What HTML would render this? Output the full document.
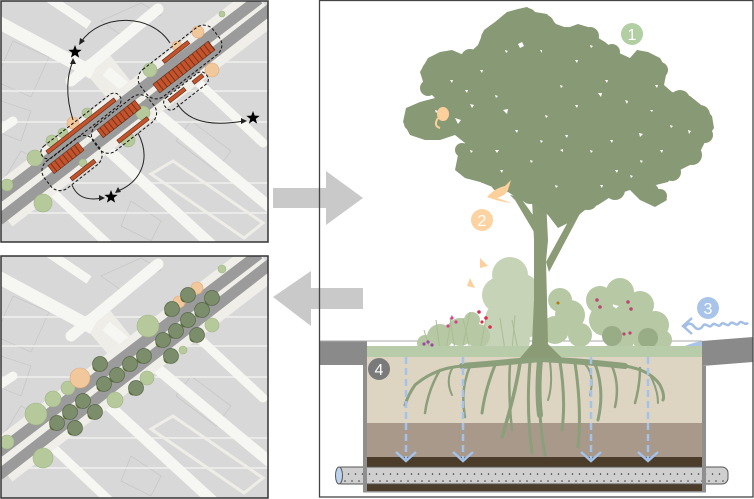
<!DOCTYPE html>
<html><head><meta charset="utf-8"><style>
html,body{margin:0;padding:0;background:#fff;width:754px;height:499px;overflow:hidden}
svg{display:block}
</style></head><body>
<svg width="754" height="499" viewBox="0 0 754 499" xmlns="http://www.w3.org/2000/svg">
<defs>
<clipPath id="cpT"><rect x="1" y="1" width="267" height="241"/></clipPath>
<clipPath id="cpB"><rect x="1" y="256" width="267" height="242"/></clipPath>
<pattern id="stripe" width="5" height="40" patternUnits="userSpaceOnUse"><rect width="5" height="40" fill="#c4532c"/><rect x="4.1" width="0.9" height="40" fill="#6e2f18"/></pattern>
<pattern id="dots" x="0" y="0" width="7" height="14" patternUnits="userSpaceOnUse"><circle cx="2" cy="5" r="0.75" fill="#333"/><circle cx="5.5" cy="12" r="0.75" fill="#333"/></pattern>
<g id="map">
 <rect x="-2" y="-2" width="272" height="248" fill="#d8d8d8"/>
 <g stroke="#c8c8c8" stroke-width="0.8" fill="none">
  <polygon points="12,40 48,56 30,96 -6,80"/>
  <polygon points="100,20 140,2 160,14 120,34"/>
  <polygon points="190,120 230,150 215,170 175,140"/>
  <polygon points="20,150 40,160 25,185 5,175"/>
  <polygon points="130,200 160,220 150,240 120,225"/>
  <polygon points="210,20 240,40 225,60 195,40"/>
  <polygon points="0,100 30,110 20,140 -5,130"/>
 </g>
 <g stroke="#f0f0ed" stroke-width="1.4">
  <line x1="0" y1="61" x2="268" y2="61"/>
  <line x1="0" y1="90" x2="268" y2="90"/>
  <line x1="0" y1="121" x2="268" y2="121"/>
  <line x1="0" y1="182" x2="268" y2="182"/>
  <line x1="0" y1="212" x2="268" y2="212"/>
 </g>
 <polygon points="78,64 104,48 136,88 110,102" fill="#eeede8"/>
 <g fill="none" stroke="#f6f6f3">
  <path d="M-5,20 L92,72" stroke-width="13"/>
  <path d="M48,-3 L88,24" stroke-width="9"/>
  <path d="M70,80 L157,8" stroke-width="11" stroke-linecap="round"/>
  <path d="M105,70 L270,207" stroke-width="11"/>
  <path d="M185,70 L262,142" stroke-width="9" stroke-linecap="round"/>
  <path d="M92,135 L215,248" stroke-width="11"/>
  <path d="M45,185 L112,248" stroke-width="9"/>
  <path d="M-3,130 L12,120" stroke-width="9" stroke-linecap="round"/>
 </g>
 <polygon points="150,173 172,160 262,222 243,237" fill="none" stroke="#eeede8" stroke-width="3"/>
 <path d="M-2,208 L264,4" stroke="#efeee9" stroke-width="44" fill="none"/>
 <path d="M-2,196 L258,-2" stroke="#9b9b9b" stroke-width="11" fill="none"/>
 <path d="M-2,219 L272,6" stroke="#9b9b9b" stroke-width="11" fill="none"/>
</g>
</defs>

<!-- TOP MAP -->
<g clip-path="url(#cpT)">
 <use href="#map" x="1" y="1"/>
 <g fill="#b6c99b" stroke="#9db386" stroke-width="0.6">
  <circle cx="35" cy="158" r="8"/>
  <circle cx="43" cy="203" r="9"/>
  <circle cx="7" cy="185" r="6"/>
  <circle cx="63" cy="133" r="5"/>
  <circle cx="52" cy="141" r="6"/>
  <circle cx="87" cy="113" r="5"/>
  <circle cx="143" cy="113" r="7"/>
  <circle cx="128" cy="140" r="7"/>
  <circle cx="83" cy="163" r="4"/>
  <circle cx="150" cy="70" r="7"/>
  <circle cx="222" cy="14" r="3"/>
 </g>
 <g fill="#f1c79c" stroke="#e4a878" stroke-width="0.6">
  <circle cx="73" cy="123" r="6"/>
  <circle cx="212" cy="70" r="7"/>
  <circle cx="198" cy="32" r="6"/>
  <circle cx="177" cy="46" r="5"/>
 </g>
 <g fill="none" stroke="#111" stroke-width="1" stroke-dasharray="3,2">
  <rect x="-49" y="-7" width="98" height="14" rx="7" transform="translate(81,126) rotate(-38)"/>
  <rect x="-31" y="-17" width="62" height="34" rx="12" transform="translate(72,163) rotate(-38)"/>
  <rect x="-35" y="-16" width="70" height="32" rx="12" transform="translate(124,124) rotate(-38)"/>
  <rect x="-46" y="-17" width="92" height="34" rx="12" transform="translate(180,62) rotate(-38)"/>
  <rect x="-26" y="-7" width="52" height="14" rx="6" transform="translate(186,91) rotate(-38)"/>
 </g>
 <g stroke="#5a2a15" stroke-width="0.6">
  <g transform="translate(66,158) rotate(-38)"><rect x="-19" y="-5" width="38" height="10" fill="url(#stripe)"/></g>
  <g transform="translate(119,119) rotate(-38)"><rect x="-24" y="-5" width="48" height="10" fill="url(#stripe)"/></g>
  <g transform="translate(184,67) rotate(-38)"><rect x="-35" y="-5.5" width="70" height="11" fill="url(#stripe)"/></g>
  <g fill="#c4532c">
   <rect x="-43" y="-2" width="86" height="4" transform="translate(81,126) rotate(-38)"/>
   <rect x="-15" y="-2" width="30" height="4" transform="translate(83,170) rotate(-38)"/>
   <rect x="-19" y="-2" width="38" height="4" transform="translate(133,130) rotate(-38)"/>
   <rect x="-16" y="-2" width="32" height="4" transform="translate(176,52) rotate(-38)"/>
   <rect x="-10" y="-2" width="20" height="4" transform="translate(177,95) rotate(-38)"/>
   <rect x="-6" y="-2" width="12" height="4" transform="translate(198,79) rotate(-38)"/>
  </g>
 </g>
 <g fill="none" stroke="#222" stroke-width="1">
  <path d="M170,43 C150,12 100,14 81,42"/>
  <path d="M73,120 C65,95 67,75 73,61"/>
  <path d="M177,103 C190,126 220,125 244,121"/>
  <path d="M72,185 C78,200 92,200 102,198"/>
  <path d="M138,133 C152,160 140,182 118,191"/>
 </g>
 <g fill="#222">
  <polygon points="79,45 80,38 85,41"/>
  <polygon points="73,58 70,64 76,64"/>
  <polygon points="247,121 241,118 241,124"/>
  <polygon points="105,198 99,195 99,201"/>
  <polygon points="115,193 118,187 121,192"/>
 </g>
 <g fill="#000">
  <polygon transform="translate(75,52)" points="0,-7 1.7,-2.35 6.66,-2.16 2.76,0.9 4.11,5.66 0,2.9 -4.11,5.66 -2.76,0.9 -6.66,-2.16 -1.7,-2.35"/>
  <polygon transform="translate(253,118)" points="0,-7 1.7,-2.35 6.66,-2.16 2.76,0.9 4.11,5.66 0,2.9 -4.11,5.66 -2.76,0.9 -6.66,-2.16 -1.7,-2.35"/>
  <polygon transform="translate(111,197)" points="0,-7 1.7,-2.35 6.66,-2.16 2.76,0.9 4.11,5.66 0,2.9 -4.11,5.66 -2.76,0.9 -6.66,-2.16 -1.7,-2.35"/>
 </g>
</g>
<rect x="1" y="1" width="267" height="241" fill="none" stroke="#333" stroke-width="1.5"/>

<!-- BOTTOM MAP -->
<g clip-path="url(#cpB)">
 <use href="#map" x="1" y="256"/>
 <g fill="#b6c99b" stroke="#9db386" stroke-width="0.6">
  <circle cx="148" cy="326" r="11"/>
  <circle cx="36" cy="414" r="11"/>
  <circle cx="43" cy="458" r="10"/>
  <circle cx="7" cy="442" r="7"/>
  <circle cx="53" cy="399" r="8"/>
  <circle cx="68" cy="388" r="7"/>
  <circle cx="115" cy="400" r="8"/>
  <circle cx="147" cy="378" r="7"/>
  <circle cx="212" cy="325" r="7"/>
  <circle cx="183" cy="350" r="4"/>
  <circle cx="222" cy="269" r="4"/>
 </g>
 <g fill="#f1c79c" stroke="#e4a878" stroke-width="0.6">
  <circle cx="197" cy="288" r="6"/>
  <circle cx="179" cy="302" r="6"/>
  <circle cx="80" cy="378" r="10"/>
 </g>
 <g>
  <g fill="#5b6e22">
   <circle cx="185" cy="298" r="4.5"/><circle cx="209" cy="301" r="4.5"/><circle cx="169" cy="312" r="4.5"/><circle cx="199" cy="313" r="4.5"/><circle cx="185" cy="323" r="4.5"/><circle cx="173" cy="334" r="4.5"/><circle cx="160" cy="343" r="4.5"/><circle cx="194" cy="338" r="4.5"/><circle cx="168" cy="359" r="4.5"/><circle cx="141" cy="359" r="4.5"/><circle cx="127" cy="367" r="4.5"/><circle cx="97" cy="367" r="4.5"/><circle cx="114" cy="378" r="4.5"/><circle cx="101" cy="387" r="4.5"/><circle cx="133" cy="391" r="4.5"/><circle cx="80" cy="404" r="4.5"/><circle cx="92" cy="415" r="4.5"/><circle cx="67" cy="415" r="4.5"/><circle cx="54" cy="426" r="4.5"/><circle cx="72" cy="431" r="4.5"/>
  </g>
  <g fill="#7b8d6a" stroke="#56664a" stroke-width="0.7">
   <circle cx="188" cy="295" r="7.5"/><circle cx="212" cy="298" r="7.5"/><circle cx="172" cy="309" r="7.5"/><circle cx="202" cy="310" r="7.5"/><circle cx="188" cy="320" r="7.5"/><circle cx="176" cy="331" r="7.5"/><circle cx="163" cy="340" r="7.5"/><circle cx="197" cy="335" r="7.5"/><circle cx="171" cy="356" r="7.5"/><circle cx="144" cy="356" r="7.5"/><circle cx="130" cy="364" r="7.5"/><circle cx="100" cy="364" r="7.5"/><circle cx="117" cy="375" r="7.5"/><circle cx="104" cy="384" r="7.5"/><circle cx="136" cy="388" r="7.5"/><circle cx="83" cy="401" r="7.5"/><circle cx="95" cy="412" r="7.5"/><circle cx="70" cy="412" r="7.5"/><circle cx="57" cy="423" r="7.5"/><circle cx="75" cy="428" r="7.5"/>
  </g>
 </g>
</g>
<rect x="1" y="256" width="267" height="242" fill="none" stroke="#333" stroke-width="1.5"/>

<!-- grey arrows -->
<polygon points="273,188 326,188 326,171 363,198 326,225 326,208 273,208" fill="#c9c9c9"/>
<polygon points="273,297 311,271 311,288 363,288 363,309 311,309 311,326" fill="#c9c9c9"/>

<!-- RIGHT PANEL -->
<rect x="367" y="356" width="335" height="67" fill="#ddd4c2"/>
<rect x="367" y="423" width="335" height="34" fill="#a8998a"/>
<rect x="367" y="457" width="335" height="35" fill="#4c3d2b"/>
<g fill="none" stroke="#8b9f7b" stroke-linecap="round">
 <path d="M540,359 Q500,363 462,366" stroke-width="6"/>
 <path d="M462,366 Q435,368 415,385 Q408,395 405,405" stroke-width="3"/>
 <path d="M542,359 Q590,362 625,366" stroke-width="6"/>
 <path d="M625,366 Q650,370 660,385 Q665,395 663,400" stroke-width="3"/>
 <path d="M540,360 Q537,390 540,415" stroke-width="6"/>
 <path d="M540,415 Q542,440 545,455" stroke-width="3"/>
 <path d="M520,363 Q515,395 502,437" stroke-width="3.5"/>
 <path d="M495,365 Q485,390 482,413" stroke-width="3"/>
 <path d="M470,366 Q460,390 465,417" stroke-width="2.5"/>
 <path d="M440,370 Q428,390 425,413" stroke-width="2.5"/>
 <path d="M510,364 Q508,395 512,430" stroke-width="2.5"/>
 <path d="M560,362 Q566,400 562,430" stroke-width="3"/>
 <path d="M575,363 Q582,410 578,447" stroke-width="3"/>
 <path d="M595,364 Q605,390 598,420" stroke-width="3"/>
 <path d="M612,366 Q620,385 615,407" stroke-width="2.5"/>
 <path d="M640,368 Q640,385 635,403" stroke-width="2.5"/>
 <path d="M650,375 Q658,390 658,403" stroke-width="2"/>
 <path d="M530,362 Q526,410 532,453" stroke-width="3"/>
 <path d="M453,367 Q445,380 452,395" stroke-width="2"/>
 <path d="M585,364 Q595,375 590,395" stroke-width="2"/>
 <path d="M550,362 Q553,385 548,400" stroke-width="2"/>
</g>
<g fill="none" stroke="#a4c2ea" stroke-width="2.5">
 <path d="M406,357 V459 M463,357 V459 M591,357 V459 M648,357 V459" stroke-dasharray="7,4"/>
 <polyline points="396,452 406,461 416,452"/>
 <polyline points="453,452 463,461 473,452"/>
 <polyline points="581,452 591,461 601,452"/>
 <polyline points="638,452 648,461 658,452"/>
</g>
<rect x="336" y="467" width="392" height="17" rx="6" fill="#cfcfcf" stroke="#555" stroke-width="1"/>
<rect x="342" y="468" width="382" height="15" fill="url(#dots)"/>
<ellipse cx="339" cy="475.5" rx="3.5" ry="8.5" fill="#bcd3ee" stroke="#555" stroke-width="1"/>
<rect x="363" y="365" width="4" height="127" fill="#8f8f8f"/>
<rect x="702" y="366" width="4" height="126" fill="#8f8f8f"/>
<rect x="363" y="491" width="343" height="1.5" fill="#8f8f8f"/>
<rect x="320" y="341" width="47" height="24" fill="#8a8a8a"/>
<polygon points="702,341 753,337 753,362 702,366" fill="#8a8a8a"/>
<line x1="319" y1="341" x2="702" y2="341" stroke="#aaa" stroke-width="1"/>
<path d="M676,350 Q690,343 702,341 L702,350 Z" fill="#a9c4e6"/>
<!-- understory -->
<g fill="#c6d3b7">
 <circle cx="510" cy="275" r="18"/><circle cx="500" cy="295" r="18"/><circle cx="522" cy="292" r="18"/><circle cx="505" cy="320" r="20"/><circle cx="525" cy="320" r="18"/><circle cx="495" cy="335" r="15"/><circle cx="515" cy="340" r="15"/>
</g>
<g fill="#b7c8a4">
 <circle cx="560" cy="300" r="12"/><circle cx="570" cy="315" r="15"/><circle cx="555" cy="330" r="14"/><circle cx="580" cy="335" r="12"/>
 <circle cx="600" cy="300" r="14"/><circle cx="620" cy="292" r="14"/><circle cx="640" cy="305" r="14"/><circle cx="605" cy="320" r="16"/><circle cx="630" cy="320" r="18"/><circle cx="655" cy="325" r="14"/><circle cx="620" cy="340" r="14"/><circle cx="645" cy="340" r="12"/><circle cx="662" cy="340" r="10"/>
 <circle cx="440" cy="337" r="13"/><circle cx="460" cy="332" r="14"/><circle cx="478" cy="336" r="12"/><circle cx="425" cy="343" r="8"/><circle cx="472" cy="320" r="8"/>
</g>
<g fill="#98ac86"><circle cx="612" cy="336" r="10"/><circle cx="648" cy="338" r="10"/></g>
<g stroke="#a9bd95" stroke-width="1" fill="none">
 <path d="M440,350 L436,320 M446,350 L452,315 M455,350 L450,318 M462,350 L470,312 M470,350 L463,318 M430,350 L424,330 M480,350 L486,318 M505,350 L500,318 M512,350 L515,315 M518,350 L512,320"/>
</g>
<rect x="367" y="346" width="335" height="11" fill="#b9cca9"/>
<g fill="#d8408a">
 <circle cx="424" cy="344" r="1.6" fill="#9a4a9e"/><circle cx="428" cy="342" r="1.6" fill="#9a4a9e"/><circle cx="432" cy="345" r="1.6" fill="#9a4a9e"/>
 <circle cx="452" cy="318" r="1.6"/><circle cx="456" cy="322" r="1.6"/><circle cx="448" cy="326" r="1.6"/>
 <circle cx="479" cy="312" r="1.8" fill="#d62e4e"/><circle cx="486" cy="318" r="1.8" fill="#d62e4e"/><circle cx="490" cy="327" r="1.8" fill="#d62e4e"/><circle cx="482" cy="322" r="1.6" fill="#d62e4e"/>
 <circle cx="597" cy="300" r="1.8" fill="#b84a70"/><circle cx="600" cy="307" r="1.8" fill="#b84a70"/><circle cx="628" cy="302" r="1.8" fill="#b84a70"/><circle cx="631" cy="309" r="1.8" fill="#b84a70"/><circle cx="624" cy="334" r="1.6" fill="#b84a70"/><circle cx="630" cy="333" r="1.6" fill="#b84a70"/>
 <circle cx="558" cy="303" r="1.5" fill="#b07a10"/>
</g>
<!-- trunk -->
<g fill="#8a9b76">
 <polygon points="520,358 532,344 534,300 534,240 532,200 528,185 550,185 546,200 548,240 546,262 547,300 548,344 562,358"/>
 <polygon points="546,262 580,200 590,195 584,206 549,272"/>
 <polygon points="534,232 515,200 510,195 520,197 538,222"/>
</g>
<!-- canopy -->
<g fill="#889a75">
 <polygon points="527,7 535,12 547,14 556,24 567,28 578,24 588,27 595,36 605,42 617,52 630,58 637,50 648,52 660,58 667,70 664,85 672,92 690,96 700,104 712,116 714,128 706,140 700,152 690,165 676,172 668,182 652,186 664,192 667,200 655,207 640,200 630,190 612,196 598,205 585,210 570,222 558,228 548,215 535,205 520,200 508,192 495,188 480,182 465,178 455,170 458,155 465,143 455,135 440,140 425,140 410,135 403,122 406,108 420,102 435,98 425,88 420,72 428,58 440,52 452,50 466,56 478,45 484,30 495,22 507,12 518,9"/>
 <circle cx="527" cy="18" r="10"/><circle cx="545" cy="24" r="9"/><circle cx="508" cy="22" r="8"/><circle cx="567" cy="36" r="9"/><circle cx="590" cy="36" r="9"/><circle cx="612" cy="52" r="8"/>
 <circle cx="490" cy="38" r="9"/><circle cx="470" cy="58" r="9"/><circle cx="448" cy="60" r="9"/><circle cx="430" cy="70" r="8"/><circle cx="428" cy="88" r="8"/>
 <circle cx="418" cy="116" r="10"/><circle cx="430" cy="130" r="8"/><circle cx="410" cy="124" r="6"/>
 <circle cx="645" cy="62" r="10"/><circle cx="660" cy="70" r="8"/><circle cx="680" cy="100" r="10"/><circle cx="700" cy="115" r="10"/><circle cx="705" cy="135" r="8"/><circle cx="692" cy="155" r="10"/><circle cx="672" cy="172" r="9"/>
 <circle cx="650" cy="192" r="9"/><circle cx="660" cy="196" r="7"/><circle cx="615" cy="190" r="10"/><circle cx="588" cy="200" r="10"/><circle cx="565" cy="212" r="10"/><circle cx="530" cy="195" r="9"/><circle cx="500" cy="183" r="9"/><circle cx="470" cy="170" r="9"/><circle cx="462" cy="150" r="7"/>
</g>
<g fill="#fff">
 <path d="M518,44 l4,-2 l2,4 l-4,2 z"/><path d="M503,110 l5,-1 l-1,5 z"/><path d="M598,93 l4,0 l-1,4 z"/><path d="M639,133 l4,1 l-3,3 z"/><path d="M560,150 l3,-1 l0,3 z"/><path d="M470,104 l4,1 l-2,3 z"/><path d="M610,140 l3,0 l-1,3 z"/><path d="M495,150 l4,0 l-2,3 z"/><path d="M455,118 l6,2 l-3,4 z"/><path d="M688,130 l3,1 l-2,3 z"/><path d="M575,60 l3,0 l-1,3 z"/><path d="M530,160 l3,1 l-2,2 z"/>
 <path d="M480,70 l3,0 l-1,3 z"/><path d="M495,95 l3,1 l-2,2 z"/><path d="M540,50 l2,0 l0,3 z"/><path d="M560,85 l3,1 l-2,2 z"/><path d="M605,80 l3,0 l-1,3 z"/><path d="M625,100 l3,1 l-1,3 z"/><path d="M650,110 l3,0 l-1,2 z"/><path d="M670,125 l3,1 l-2,2 z"/><path d="M660,150 l3,0 l-1,3 z"/><path d="M640,160 l3,1 l-2,2 z"/><path d="M615,170 l3,0 l-1,3 z"/><path d="M590,150 l3,1 l-2,2 z"/><path d="M565,135 l3,0 l-1,3 z"/><path d="M540,140 l3,1 l-2,2 z"/><path d="M515,130 l3,0 l-1,3 z"/><path d="M470,150 l3,1 l-2,2 z"/><path d="M450,80 l3,0 l-1,3 z"/><path d="M435,110 l3,1 l-2,2 z"/><path d="M500,170 l3,0 l-1,3 z"/><path d="M555,185 l3,1 l-2,2 z"/><path d="M600,185 l3,0 l-1,3 z"/><path d="M630,175 l3,1 l-2,2 z"/><path d="M575,105 l3,0 l-1,3 z"/><path d="M545,115 l3,1 l-2,2 z"/><path d="M655,85 l3,0 l-1,3 z"/><path d="M505,50 l3,1 l-2,2 z"/><path d="M465,90 l3,0 l-1,3 z"/><path d="M590,45 l3,1 l-2,2 z"/>
</g>
<!-- animals -->
<g fill="#fdd09b">
 <ellipse cx="443" cy="114" rx="6" ry="7"/>
 <path d="M438,118 Q433,126 440,128" stroke="#fdd09b" stroke-width="2" fill="none"/>
 <path d="M487,197 Q495,188 505,186 L511,180 L508,190 Q505,196 497,198 L512,203 Q500,202 487,197 Z"/>
 <path d="M480,258 L488,266 L480,268 Z"/>
 <path d="M470,278 L475,288 L467,286 Z"/>
</g>
<g fill="none" stroke="#a3bfe6" stroke-width="2.5">
 <polyline points="692,318 683,326 692,334"/>
 <path d="M685,327 c3,-4 6,-4 9,0 s6,4 9,0 s6,4 9,0 s6,4 9,0 s6,4 9,0 s6,4 9,0 s6,4 9,0" transform="rotate(-4 685 327)"/>
</g>
<g font-family="'Liberation Sans', sans-serif" font-size="16" fill="#fff" text-anchor="middle">
 <circle cx="632" cy="34" r="11" fill="#b2cfa4"/><text x="632" y="40">1</text>
 <circle cx="482" cy="220" r="11" fill="#fdd3a1"/><text x="482" y="226">2</text>
 <circle cx="708" cy="308" r="11" fill="#a8c4e8"/><text x="708" y="314">3</text>
 <circle cx="379" cy="369" r="11" fill="#7a7a7a"/><text x="379" y="375">4</text>
</g>
<rect x="319.5" y="0.5" width="433.5" height="496.5" fill="none" stroke="#444" stroke-width="1.3"/>
</svg>
</body></html>
